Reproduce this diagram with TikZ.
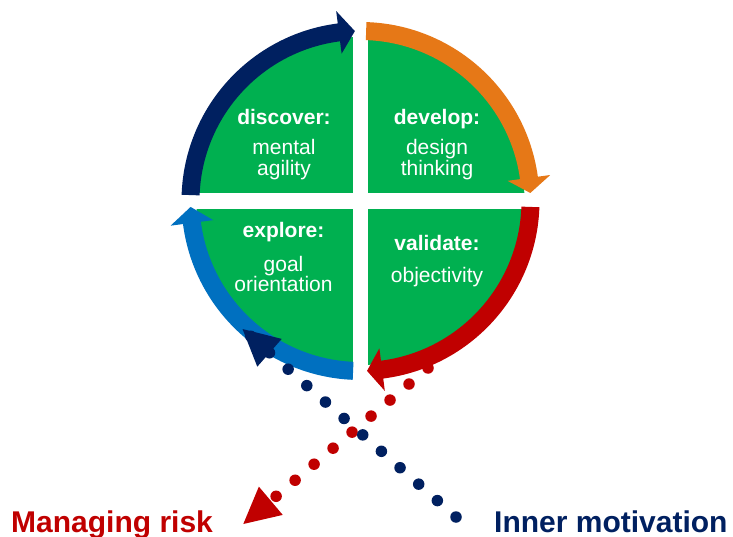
\documentclass[tikz,border=0pt]{standalone}
\usepackage{fontspec}
\setmainfont{Liberation Sans}
\usetikzlibrary{calc}

\definecolor{quadgreen}{HTML}{00B050}
\definecolor{navyblue}{HTML}{002060}
\definecolor{flameorange}{HTML}{E67817}
\definecolor{darkred}{HTML}{C00000}
\definecolor{skyblue}{HTML}{0070C0}

\tikzset{
  quadhead/.style={text=white, font=\fontsize{21}{21}\selectfont\bfseries, anchor=base, inner sep=0pt},
  quadtext/.style={text=white, font=\fontsize{21}{21}\selectfont, anchor=base, inner sep=0pt},
  bigtag/.style={font=\fontsize{30}{30}\selectfont\bfseries, anchor=base west, inner sep=0pt},
  dotline/.style={line width=11.5pt, line cap=round, dash pattern=on 0pt off 24.85pt},
}

% curved band with an arrow head: colour, start angle, head base angle, tip angle
\newcommand{\cyclearrow}[4]{%
  \fill[#1] (#2:161pt) arc[start angle=#2, end angle=#3, radius=161pt]
    -- (#3:148.5pt) -- (#4:170pt) -- (#3:191.5pt) -- (#3:179pt)
    arc[start angle=#3, end angle=#2, radius=179pt] -- cycle;}

% dotted line with a triangular head: colour, start coordinate, tip coordinate
\newcommand{\dottedarrow}[3]{%
  \draw[#1, dotline] (#2) -- (#3);
  \coordinate (headbase) at ($(#3)!36pt!(#2)$);
  \fill[#1] (#3) -- ($(headbase)!18.5pt!90:(#3)$) -- ($(headbase)!18.5pt!-90:(#3)$) -- cycle;}

\begin{document}
\begin{tikzpicture}[x=1pt,y=1pt]
  \useasboundingbox (0,0) rectangle (733,536);
  \fill[white] (0,0) rectangle (733,536);

  % four green quadrants
  \coordinate (hub) at (360.5,335);
  \fill[quadgreen] (hub) circle[radius=164pt];
  \fill[white] (353,150) rectangle (368,520);
  \fill[white] (180,327) rectangle (545,343);

  % the cycle of arrows round the quadrants
  \begin{scope}[shift={(hub)}]
    \cyclearrow{navyblue}{178}{97.3}{91.9}
    \cyclearrow{flameorange}{88.1}{7.8}{2.7}
    \cyclearrow{darkred}{-2}{-82.7}{-87.8}
    \cyclearrow{skyblue}{-92.5}{-172.6}{-178}
  \end{scope}

  % quadrant texts
  \node[quadhead] (discover)  at (284,411)   {discover:};
  \node[quadtext] (discover1) at (284,381)   {mental};
  \node[quadtext] (discover2) at (284,360.5) {agility};

  \node[quadhead] (develop)   at (437,411)   {develop:};
  \node[quadtext] (develop1)  at (437,381)   {design};
  \node[quadtext] (develop2)  at (437,360.5) {thinking};

  \node[quadhead] (explore)   at (283.5,298) {explore:};
  \node[quadtext] (explore1)  at (283.5,265) {goal};
  \node[quadtext] (explore2)  at (283.5,244) {orientation};

  \node[quadhead] (validate)  at (437,285)   {validate:};
  \node[quadtext] (validate1) at (437,254)   {objectivity};

  % outer labels
  \node[bigtag, text=darkred]  (risk)  at (11,4)    {Managing risk};
  \node[bigtag, text=navyblue] (motiv) at (494,4)   {Inner motivation};

  % dotted arrows crossing below the cycle
  \coordinate (riskStart)  at (428,168);
  \coordinate (riskTip)    at (243.3,12);
  \coordinate (motivStart) at (456,19);
  \coordinate (motivTip)   at (242.5,207);
  \dottedarrow{darkred}{riskStart}{riskTip}
  \dottedarrow{navyblue}{motivStart}{motivTip}
\end{tikzpicture}
\end{document}
